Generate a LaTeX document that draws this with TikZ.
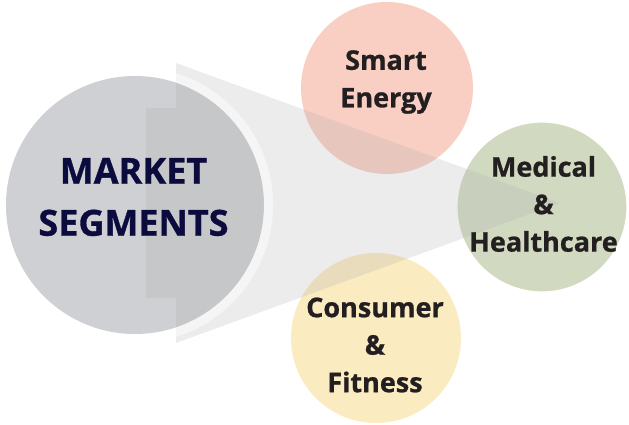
\documentclass[tikz,border=0pt]{standalone}
\usepackage{fontspec}
\setmainfont{Open Sans}[BoldFeatures={FakeBold=0.9}]
\usetikzlibrary{positioning}

\definecolor{hubgray}{HTML}{CFD0D3}
\definecolor{energypink}{HTML}{F9CEC3}
\definecolor{medgreen}{HTML}{D1DAC1}
\definecolor{fityellow}{HTML}{FBEBC1}
\definecolor{funnelgray}{HTML}{ACACAC}
\definecolor{navytext}{HTML}{0C0B3E}
\definecolor{segtext}{HTML}{231F20}

\tikzset{
	blob/.style={circle, inner sep=0pt, minimum size=#1},
	seglabel/.style={align=center, text=segtext, font=\bfseries\fontsize{27}{37.5}\selectfont},
}

\begin{document}
\begin{tikzpicture}[x=1pt, y=-1pt]
		\useasboundingbox (0,0) rectangle (629,425);
		
		% circles
		\node[blob=258pt, fill=hubgray] (hub) at (135,205) {};
		\node[blob=172pt, fill=energypink] (energy) at (387,88) {};
		\node[blob=170pt, fill=fityellow] (fitness) at (376,338) {};
		\node[blob=170pt, fill=medgreen, draw=white, line width=1.2pt] (medical) at (542,207) {};
		
		% funnel with notch
		\coordinate (tip) at (560,203);
		\path[fill=funnelgray, opacity=.23] (146,108) -- (176,108) -- (176,63) -- (tip)
			-- (176,343) -- (176,298) -- (146,298) -- cycle;
		\begin{scope}
			\clip (176,63) -- (tip) -- (176,343) -- cycle;
			\draw[white, opacity=.5, line width=9pt] (hub.center) ++(90:133.5) arc[start angle=90, end angle=-90, radius=133.5];
		\end{scope}
		
		% labels
		\node[align=center, text=navytext, font=\bfseries\fontsize{36}{52}\selectfont] (hubtext) at (133.5,197) {MARKET\\SEGMENTS};
		\node[seglabel] (energytext) at (386,82) {Smart\\Energy};
		\node[seglabel] (medicaltext) at (543.5,204) {Medical\\\&\\Healthcare};
		\node[seglabel] (fitnesstext) at (375,345) {Consumer\\\&\\Fitness};
		
\end{tikzpicture}
\end{document}
